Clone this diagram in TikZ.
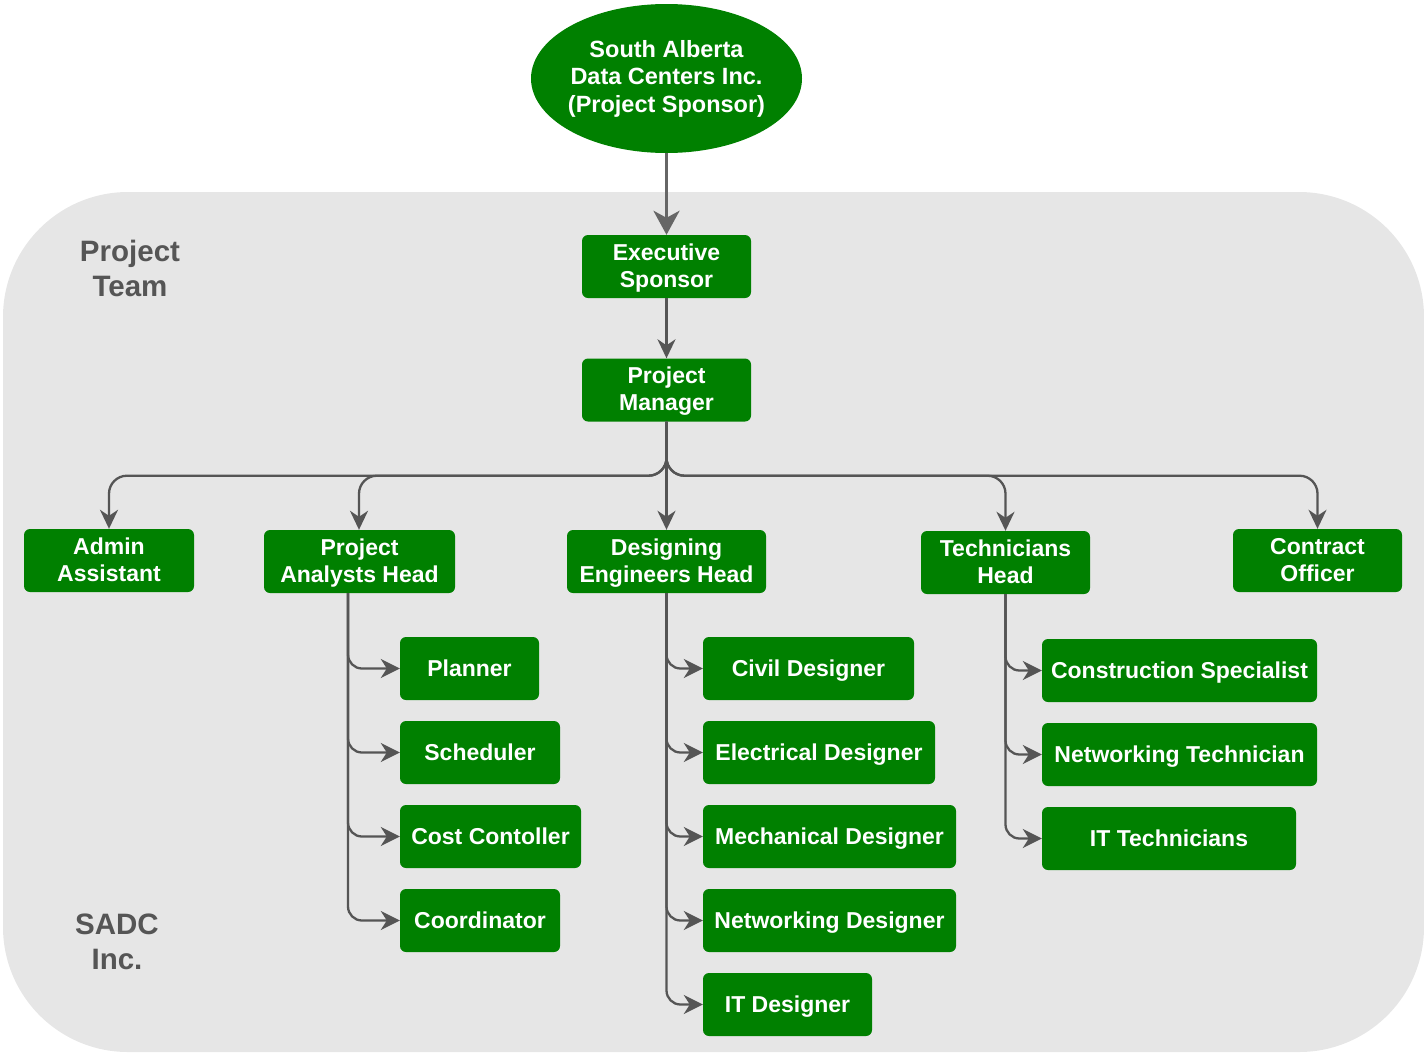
\documentclass[tikz,border=0pt]{standalone}
\usepackage{fontspec}
\setmainfont{Liberation Sans}
\usetikzlibrary{arrows.meta,shapes.geometric}
\definecolor{gbox}{RGB}{0,128,0}
\definecolor{lnk}{RGB}{85,85,85}
\definecolor{toplnk}{RGB}{102,102,102}
\definecolor{bgc}{RGB}{230,230,230}
\definecolor{lblc}{RGB}{85,85,85}
\begin{document}
\begin{tikzpicture}[x=1pt,y=-1pt,
  box/.style={fill=gbox, rounded corners=6pt, text=white,
    font=\bfseries\fontsize{23}{27}\selectfont, align=center,
    minimum height=63pt, inner sep=0pt},
  oneline/.style={box,
    execute at begin node={\rule{0pt}{22pt}},
    execute at end node={\rule[-6pt]{0pt}{6pt}}},
  twoline/.style={box, text height=47pt, text depth=6pt},
  sponsor/.style={ellipse, fill=gbox, text=white,
    font=\bfseries\fontsize{23.5}{27.5}\selectfont, align=center,
    minimum width=271pt, minimum height=149pt, inner sep=-10pt},
  grouplabel/.style={text=lblc, font=\bfseries\fontsize{29.5}{35}\selectfont, align=center},
  link/.style={draw=lnk, line width=2.3pt, rounded corners=18pt,
    -{Stealth[length=19pt,width=18pt,inset=6pt]}},
  sublink/.style={draw=lnk, line width=2.3pt, rounded corners=14pt,
    -{Stealth[length=19pt,width=19pt,inset=6pt]}},
  toplink/.style={draw=toplnk, line width=3.4pt,
    -{Stealth[length=24pt,width=26pt,inset=7pt]}}
]
\useasboundingbox (0,0) rectangle (1424,1053);
\fill[bgc, rounded corners=125pt] (3,192) rectangle (1424,1052);

\node[grouplabel] (pteam) at (130,268) {Project\\Team};
\node[grouplabel] (sadc) at (117,942) {SADC\\Inc.};

\node[sponsor] (sp) at (666.5,78.5) {South Alberta\\Data Centers Inc.\\(Project Sponsor)};
\node[twoline, minimum width=169pt] (es) at (666.5,266.5) {Executive\\Sponsor};
\node[twoline, minimum width=169pt] (pm) at (666.5,390) {Project\\Manager};

\node[twoline, minimum width=170pt] (aa) at (109,560.5) {Admin\\Assistant};
\node[twoline, minimum width=191pt] (pah) at (359.5,561.5) {Project\\Analysts Head};
\node[twoline, minimum width=199pt] (deh) at (666.5,561.5) {Designing\\Engineers Head};
\node[twoline, minimum width=169pt] (th) at (1005.5,562.5) {Technicians\\Head};
\node[twoline, minimum width=169pt] (co) at (1317.5,560.5) {Contract\\Officer};

\node[oneline, minimum width=139pt] (pl) at (469.5,668.5) {Planner};
\node[oneline, minimum width=160pt] (sc) at (480,752.5) {Scheduler};
\node[oneline, minimum width=181pt] (cc) at (490.5,836.5) {Cost Contoller};
\node[oneline, minimum width=160pt] (cd) at (480,920.5) {Coordinator};

\node[oneline, minimum width=211pt] (civ) at (808.5,668.5) {Civil Designer};
\node[oneline, minimum width=232pt] (ele) at (819,752.5) {Electrical Designer};
\node[oneline, minimum width=253pt] (mec) at (829.5,836.5) {Mechanical Designer};
\node[oneline, minimum width=253pt] (net) at (829.5,920.5) {Networking Designer};
\node[oneline, minimum width=169pt] (itd) at (787.5,1004.5) {IT Designer};

\node[oneline, minimum width=275pt] (cs) at (1179.5,670.5) {Construction Specialist};
\node[oneline, minimum width=275pt] (nt) at (1179.5,754.5) {Networking Technician};
\node[oneline, minimum width=254pt] (itt) at (1169,838.5) {IT Technicians};

\draw[toplink] (sp.south) -- (es.north);
\draw[link] (es.south) -- (pm.north);

\draw[link] (pm.south) -- ++(0,54) -| (aa.north);
\draw[link] (pm.south) -- ++(0,54) -| ([xshift=-0.5pt]pah.north);
\draw[link] (pm.south) -- (deh.north);
\draw[link] (pm.south) -- ++(0,54) -| (th.north);
\draw[link] (pm.south) -- ++(0,54) -| (co.north);

\draw[sublink] ([xshift=-11.5pt]pah.south) |- (pl.west);
\draw[sublink] ([xshift=-11.5pt]pah.south) |- (sc.west);
\draw[sublink] ([xshift=-11.5pt]pah.south) |- (cc.west);
\draw[sublink] ([xshift=-11.5pt]pah.south) |- (cd.west);

\draw[sublink] (deh.south) |- (civ.west);
\draw[sublink] (deh.south) |- (ele.west);
\draw[sublink] (deh.south) |- (mec.west);
\draw[sublink] (deh.south) |- (net.west);
\draw[sublink] (deh.south) |- (itd.west);

\draw[sublink] (th.south) |- (cs.west);
\draw[sublink] (th.south) |- (nt.west);
\draw[sublink] (th.south) |- (itt.west);
\end{tikzpicture}
\end{document}
